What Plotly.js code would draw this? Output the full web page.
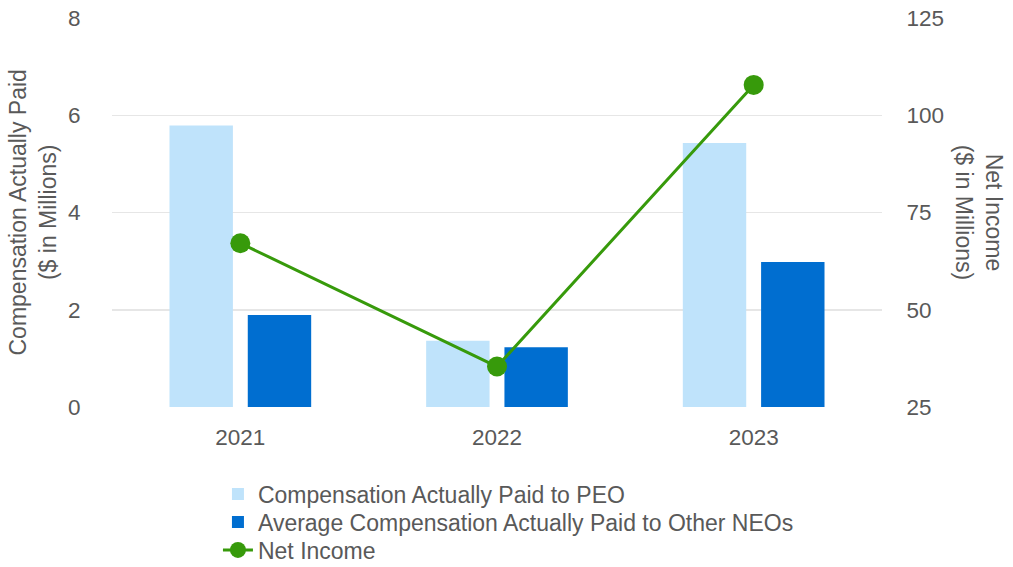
<!DOCTYPE html>
<html>
<head>
<meta charset="utf-8">
<script src="https://cdn.plot.ly/plotly-3.0.1.min.js"></script>
<style>html,body{margin:0;padding:0;background:#fff;}#chart{width:1013px;height:567px;}</style>
</head>
<body>
<div id="chart"></div>
<script>
const years = ["2021", "2022", "2023"];
const peoCap = [5.79, 1.36, 5.43];
const neoCap = [1.89, 1.23, 2.98];
const netIncome = [67.1, 35.4, 107.8];
const leftTicks = [0, 2, 4, 6, 8];
const rightTicks = [25, 50, 75, 100, 125];

const gray = "#595959";
const font = "Liberation Sans, Arial, sans-serif";

const traces = [
  {type: "bar", name: "Compensation Actually Paid to PEO", x: years, y: peoCap,
   marker: {color: "#BFE3FB"}, yaxis: "y", legend: "legend"},
  {type: "bar", name: "Average Compensation Actually Paid to Other NEOs", x: years, y: neoCap,
   marker: {color: "#006ED0"}, yaxis: "y", legend: "legend2"},
  {type: "scatter", mode: "lines+markers", name: "Net Income", x: years, y: netIncome,
   yaxis: "y2", line: {color: "#379A0B", width: 3}, marker: {color: "#379A0B", size: 20}, legend: "legend3"}
];

function leg(y) {
  return {x: 0.1376, y: y, xanchor: "left", yanchor: "middle", orientation: "v",
          font: {size: 23, color: gray}, itemwidth: 30, bgcolor: "rgba(0,0,0,0)",
          borderwidth: 0};
}

const layout = {
  width: 1013, height: 567,
  margin: {l: 112, r: 131, t: 18, b: 160, autoexpand: false},
  paper_bgcolor: "#fff", plot_bgcolor: "#fff",
  font: {family: font, color: gray, size: 22},
  barmode: "group", bargap: 0.39, bargroupgap: 0.19,
  showlegend: true,
  legend: leg(-0.2237),
  legend2: leg(-0.2956),
  legend3: leg(-0.3676),
  xaxis: {type: "category", showgrid: false, zeroline: false, showline: false,
          ticks: "outside", ticklen: 10, tickcolor: "rgba(0,0,0,0)", tickfont: {size: 22.5, color: gray}},
  yaxis: {range: [0, 8], tickvals: leftTicks, showgrid: true, gridcolor: "#E6E6E6", gridwidth: 1.5,
          zeroline: false, showline: false, ticks: "outside", ticklen: 26, tickcolor: "rgba(0,0,0,0)",
          tickfont: {size: 22.5, color: gray}},
  yaxis2: {range: [25, 125], tickvals: rightTicks, overlaying: "y", side: "right", showgrid: false,
           zeroline: false, showline: false, ticks: "outside", ticklen: 19, tickcolor: "rgba(0,0,0,0)",
           tickfont: {size: 22.5, color: gray}},
  annotations: [
    {text: "Compensation Actually Paid<br>($ in Millions)", xref: "paper", yref: "paper",
     x: -0.1026, y: 0.5, xanchor: "center", yanchor: "middle", textangle: -90, showarrow: false,
     font: {size: 23, color: gray}},
    {text: "Net Income<br>($ in Millions)", xref: "paper", yref: "paper",
     x: 1.127, y: 0.5, xanchor: "center", yanchor: "middle", textangle: 90, showarrow: false,
     font: {size: 23, color: gray}}
  ]
};

Plotly.newPlot("chart", traces, layout, {displayModeBar: false, staticPlot: true});
</script>
</body>
</html>
